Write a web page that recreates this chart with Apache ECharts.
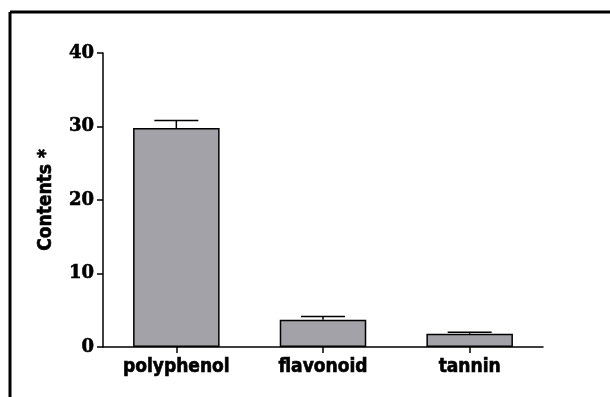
<!doctype html>
<html>
<head>
<meta charset="utf-8">
<title>Contents</title>
<script src="https://cdn.jsdelivr.net/npm/echarts@6/dist/echarts.min.js"></script>
<style>
  html, body { margin: 0; padding: 0; background: #fff; }
  #chart { width: 610px; height: 397px; }
</style>
</head>
<body>
<div id="chart"></div>
<script>
// data
const categories = ['polyphenol', 'flavonoid', 'tannin'];
const means = [29.8, 3.7, 1.8];
const errors = [1.0, 0.45, 0.2];
const yTicks = [0, 10, 20, 30, 40];

const chart = echarts.init(document.getElementById('chart'));

const tickFont = { fontFamily: 'DejaVu Serif', fontWeight: 'bold', fontSize: 18, color: '#000', textBorderColor: '#000', textBorderWidth: 0.6 };
const catFont = { fontFamily: 'DejaVu Sans Condensed, DejaVu Sans', fontWeight: 'bold', fontSize: 19, color: '#000', textBorderColor: '#000', textBorderWidth: 0.6 };

const option = {
  animation: false,
  backgroundColor: '#fff',
  grid: { left: 103, right: 67, top: 53, bottom: 50 },
  xAxis: {
    type: 'category',
    data: categories,
    axisLine: { show: true, lineStyle: { color: '#000', width: 1.5 } },
    axisTick: { show: true, alignWithLabel: true, length: 6, lineStyle: { color: '#000', width: 1.5 } },
    axisLabel: Object.assign({ margin: 11 }, catFont)
  },
  yAxis: {
    type: 'value',
    min: yTicks[0],
    max: yTicks[yTicks.length - 1],
    interval: 10,
    name: 'Contents *',
    nameLocation: 'middle',
    nameGap: 47,
    nameTextStyle: { fontFamily: 'DejaVu Sans Condensed, DejaVu Sans', fontWeight: 'bold', fontSize: 19, color: '#000', textBorderColor: '#000', textBorderWidth: 0.6 },
    axisLine: { show: true, lineStyle: { color: '#000', width: 1.5 } },
    axisTick: { show: true, length: 6, lineStyle: { color: '#000', width: 1.5 } },
    axisLabel: Object.assign({ margin: 9 }, tickFont),
    splitLine: { show: false }
  },
  series: [
    {
      type: 'bar',
      data: means,
      barWidth: '59%',
      itemStyle: { color: '#a3a2a8', borderColor: '#000', borderWidth: 1.5 }
    },
    {
      type: 'custom',
      data: means.map((m, i) => [i, m, m + errors[i]]),
      z: 1,
      renderItem: function (params, api) {
        const top = api.coord([api.value(0), api.value(1)]);
        const hi = api.coord([api.value(0), api.value(2)]);
        const half = api.size([1, 0])[0] * 0.15;
        const style = { stroke: '#000', lineWidth: 1.5 };
        return {
          type: 'group',
          children: [
            { type: 'line', shape: { x1: top[0], y1: top[1], x2: hi[0], y2: hi[1] }, style: style },
            { type: 'line', shape: { x1: hi[0] - half, y1: hi[1], x2: hi[0] + half, y2: hi[1] }, style: style }
          ]
        };
      }
    }
  ],
  graphic: [
    { type: 'line', shape: { x1: 10, y1: 12, x2: 610, y2: 12 }, style: { stroke: '#000', lineWidth: 3 } },
    { type: 'line', shape: { x1: 10, y1: 12, x2: 10, y2: 397 }, style: { stroke: '#000', lineWidth: 3 } }
  ]
};

chart.setOption(option);
</script>
</body>
</html>
